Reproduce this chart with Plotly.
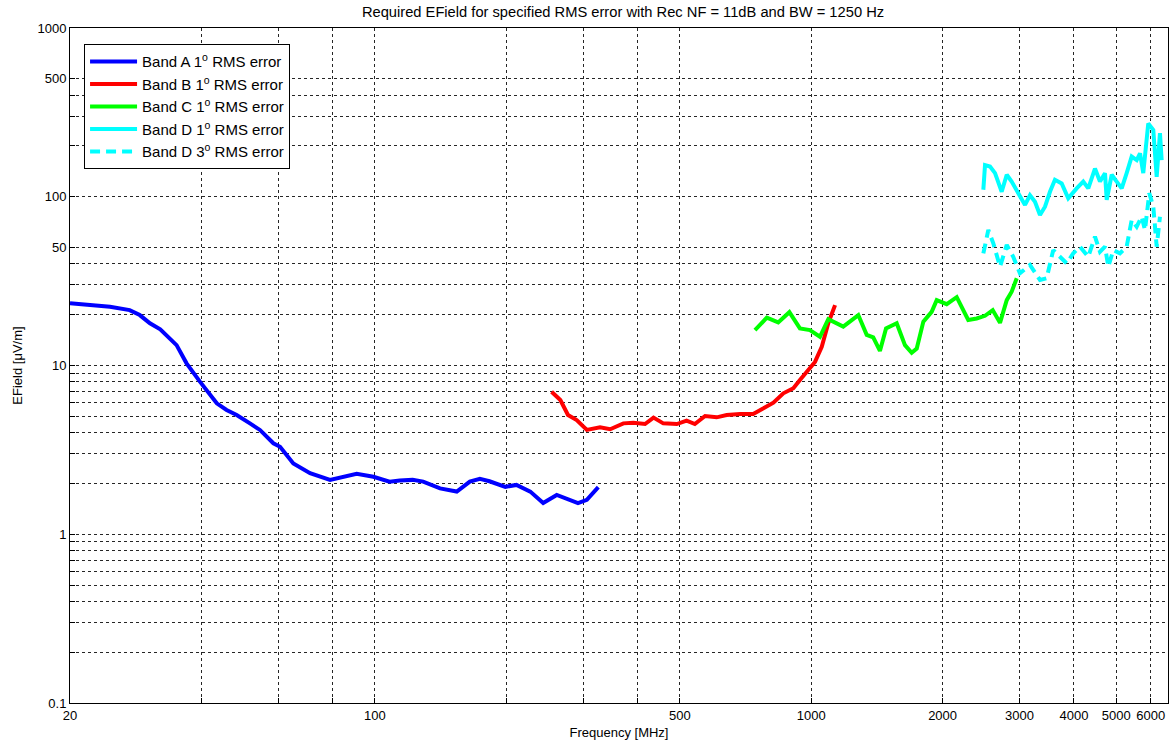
import plotly.graph_objects as go

# ---- data (frequency in MHz, E-field in uV/m) ----
band_a_freq = [20, 22.6, 24.7, 27.4, 28.9, 30.5, 32.2, 35.1, 37.0, 39.7, 43.4, 45.7, 48.2, 51.7,
               54.5, 58.5, 60.6, 65.0, 71.0, 78.9, 84.6, 90.8, 99.2, 108, 114, 122, 129, 141,
               154, 165, 174, 183, 199, 211, 227, 243, 261, 275, 292, 306, 325]
band_a_val = [23.4, 22.7, 22.3, 21.3, 19.9, 17.8, 16.4, 13.2, 10.3, 8.02, 5.97, 5.45, 5.09, 4.54,
              4.15, 3.46, 3.30, 2.63, 2.30, 2.10, 2.19, 2.28, 2.19, 2.05, 2.08, 2.10, 2.05, 1.87,
              1.79, 2.05, 2.13, 2.06, 1.91, 1.96, 1.79, 1.53, 1.71, 1.63, 1.53, 1.60, 1.90]

band_b_freq = [254, 266, 277, 290, 306, 328, 346, 371, 391, 416, 435, 458, 492, 518, 541, 571,
               607, 640, 687, 736, 770, 819, 863, 910, 942, 976, 1020, 1057, 1094, 1134]
band_b_val = [6.99, 6.24, 5.09, 4.75, 4.15, 4.30, 4.19, 4.54, 4.58, 4.50, 4.91, 4.54, 4.50, 4.71,
              4.50, 5.02, 4.93, 5.09, 5.16, 5.16, 5.50, 6.02, 6.84, 7.33, 8.21, 9.19, 10.5, 12.9,
              17.8, 22.8]

band_c_freq = [743, 791, 840, 891, 942, 993, 1047, 1094, 1184, 1282, 1340, 1387, 1437, 1484,
               1570, 1640, 1699, 1745, 1807, 1888, 1939, 2044, 2155, 2290, 2394, 2502, 2606,
               2708, 2806, 2880, 2958]
band_c_val = [16.2, 19.2, 18.0, 20.7, 16.6, 16.2, 14.8, 18.8, 17.0, 19.9, 15.2, 14.7, 12.2, 16.6,
              17.8, 13.2, 11.9, 12.6, 18.2, 20.8, 24.4, 23.1, 25.4, 18.6, 19.0, 19.7, 21.3,
              17.9, 24.4, 27.4, 32.9]

band_d1_freq = [2480, 2502, 2569, 2638, 2732, 2806, 2880, 3008, 3090, 3172, 3257, 3344, 3434,
                3525, 3619, 3750, 3882, 4058, 4202, 4315, 4470, 4590, 4713, 4756, 4883, 5013,
                5147, 5284, 5426, 5571, 5670, 5768, 5922, 6081, 6191, 6299, 6356]
band_d1_val = [110, 154, 151, 138, 107, 135, 123, 102, 89.4, 102, 93.5, 78.0, 87.3, 107, 126,
               120, 97.9, 112, 123, 112, 147, 123, 138, 95.7, 135, 123, 112, 138, 173, 165,
               181, 138, 272, 249, 131, 238, 165]

band_d3_freq = [2480, 2546, 2614, 2708, 2806, 2904, 3008, 3172, 3344, 3464, 3586, 3716, 3850,
                3986, 4130, 4315, 4470, 4590, 4713, 4796, 4924, 5100, 5284, 5426, 5571, 5720,
                5820, 5954, 6081, 6191, 6299]
band_d3_val = [46.2, 63.5, 53.0, 38.5, 51.8, 44.1, 35.2, 39.4, 32.1, 32.9, 48.3, 44.1, 40.3,
               46.2, 50.6, 44.1, 58.0, 47.2, 50.6, 38.5, 48.3, 46.2, 50.6, 72.8, 66.4, 76.2,
               63.5, 105, 87.3, 50.6, 76.2]

x_grid = [20, 40, 60, 80, 100, 200, 300, 400, 500, 1000, 2000, 3000, 4000, 5000, 6000]
x_labels = ["20", "", "", "", "100", "", "", "", "500", "1000", "2000", "3000", "4000", "5000", "6000"]
y_grid = [0.1, 0.2, 0.3, 0.4, 0.5, 0.6, 0.7, 0.8, 0.9, 1, 2, 3, 4, 5, 6, 7, 8, 9,
          10, 20, 30, 40, 50, 100, 200, 300, 400, 500, 1000]
y_labels = ["0.1", "", "", "", "", "", "", "", "", "1", "", "", "", "", "", "", "", "",
            "10", "", "", "", "50", "100", "", "", "", "500", "1000"]

FONT = "Liberation Sans, Arial, sans-serif"

fig = go.Figure()
fig.add_trace(go.Scatter(x=band_a_freq, y=band_a_val, mode="lines",
                         line=dict(color="#0000FF", width=4),
                         name="Band A 1<sup>o</sup> RMS error"))
fig.add_trace(go.Scatter(x=band_b_freq, y=band_b_val, mode="lines",
                         line=dict(color="#FF0000", width=4),
                         name="Band B 1<sup>o</sup> RMS error"))
fig.add_trace(go.Scatter(x=band_c_freq, y=band_c_val, mode="lines",
                         line=dict(color="#00FF00", width=4),
                         name="Band C 1<sup>o</sup> RMS error"))
fig.add_trace(go.Scatter(x=band_d1_freq, y=band_d1_val, mode="lines",
                         line=dict(color="#00FFFF", width=4),
                         name="Band D 1<sup>o</sup> RMS error"))
fig.add_trace(go.Scatter(x=band_d3_freq, y=band_d3_val, mode="lines",
                         line=dict(color="#00FFFF", width=4, dash="10px,6px"),
                         name="Band D 3<sup>o</sup> RMS error"))

axis_common = dict(
    showline=True, linecolor="black", linewidth=1, mirror=True,
    showgrid=True, gridcolor="rgba(0,0,0,0.85)", gridwidth=1, griddash="3px,3px",
    ticks="inside", ticklen=5, tickcolor="black",
    tickfont=dict(family=FONT, size=13, color="black"),
    zeroline=False, automargin=False,
)

fig.update_layout(
    width=1171, height=745,
    margin=dict(l=70, r=3, t=28, b=42),
    paper_bgcolor="white", plot_bgcolor="white",
    font=dict(family=FONT, size=13, color="black"),
    title=dict(text="Required EField for specified RMS error with Rec NF = 11dB and BW = 1250 Hz",
               x=623 / 1171, xref="container", xanchor="center",
               y=1 - 12 / 745, yref="container", yanchor="middle",
               font=dict(family=FONT, size=14.7, color="black")),
    xaxis=dict(type="log", range=[1.30103, 3.8177], tickvals=x_grid, ticktext=x_labels,
               title=dict(text="Frequency [MHz]", standoff=6,
                          font=dict(family=FONT, size=13)),
               **axis_common),
    yaxis=dict(type="log", range=[-1, 3], tickvals=y_grid, ticktext=y_labels,
               title=dict(text="EField [μV/m]", standoff=11,
                          font=dict(family=FONT, size=13)),
               **axis_common),
    legend=dict(x=0.0128, y=0.976, xanchor="left", yanchor="top",
                bgcolor="white", bordercolor="black", borderwidth=1,
                font=dict(family=FONT, size=15, color="black"),
                itemwidth=47, tracegroupgap=0),
    showlegend=True,
)

fig.write_html("out.html", config={"displayModeBar": False},
               post_script="document.body.style.margin='0';document.body.style.overflow='hidden';")
